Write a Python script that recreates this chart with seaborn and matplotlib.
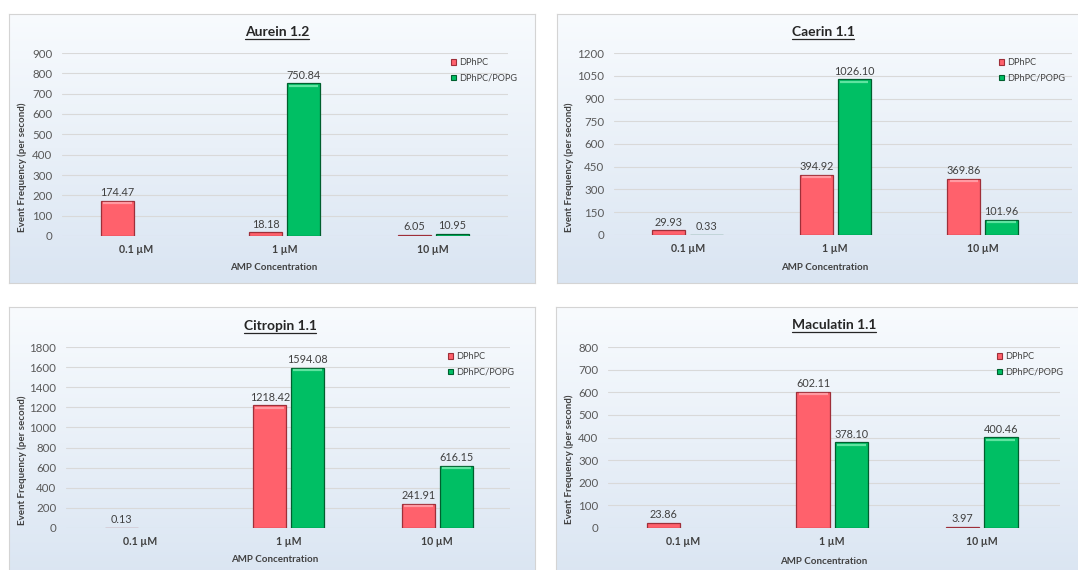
import numpy as np
import pandas as pd
import seaborn as sns
import matplotlib.pyplot as plt
from matplotlib.patches import Patch
from matplotlib.lines import Line2D
from matplotlib.colors import LinearSegmentedColormap

# ---- data -------------------------------------------------------------
concentrations = ["0.1 µM", "1 µM", "10 µM"]
lipids = ["DPhPC", "DPhPC/POPG"]
peptides = ["Aurein 1.2", "Caerin 1.1", "Citropin 1.1", "Maculatin 1.1"]

aurein_dphpc = [174.47, 18.18, 6.05]
aurein_popg = [None, 750.84, 10.95]
caerin_dphpc = [29.93, 394.92, 369.86]
caerin_popg = [0.33, 1026.10, 101.96]
citropin_dphpc = [0.13, 1218.42, 241.91]
citropin_popg = [None, 1594.08, 616.15]
maculatin_dphpc = [23.86, 602.11, 3.97]
maculatin_popg = [None, 378.10, 400.46]

y_max = [900, 1200, 1800, 800]
y_step = [100, 150, 200, 100]

series = [
    (aurein_dphpc, aurein_popg),
    (caerin_dphpc, caerin_popg),
    (citropin_dphpc, citropin_popg),
    (maculatin_dphpc, maculatin_popg),
]

# ---- styling ----------------------------------------------------------
sns.set_theme(style="white")
plt.rcParams["font.family"] = ["Lato", "DejaVu Sans"]

red, green = "#ff616c", "#00bf64"
red_dark, green_dark = "#9e2f39", "#005f2e"
red_light, green_light = "#ff9aa2", "#5fe3a0"
palette = {"DPhPC": red, "DPhPC/POPG": green}
darks = [red_dark, green_dark]
lights = [red_light, green_light]

W, H = 1078, 570
fig = plt.figure(figsize=(W / 100, H / 100), dpi=100)
fig.patch.set_facecolor("white")


def frac(l, t, r, b):
    return [l / W, 1 - b / H, (r - l) / W, (b - t) / H]


# panel boxes, plot areas and text anchors, in pixels
layout = [
    dict(panel=(9, 14, 535, 283), plot=(62, 53, 508, 236), step=148.5,
         title=(277, 32), xlabel=(274, 267), ylabel=(22, 167), legend=(451, 58)),
    dict(panel=(557, 14, 1090, 283), plot=(614, 53, 1072, 235), step=147.5,
         title=(823, 32), xlabel=(825, 267), ylabel=(569, 167), legend=(999, 58)),
    dict(panel=(9, 307, 535, 580), plot=(66, 347, 510, 528), step=148.5,
         title=(280, 326), xlabel=(275, 560), ylabel=(22, 460), legend=(448, 352)),
    dict(panel=(556, 307, 1090, 580), plot=(608, 347, 1060, 528), step=149.5,
         title=(834, 325), xlabel=(824, 561), ylabel=(569, 459), legend=(997, 352)),
]

gradient = np.linspace(0, 1, 256).reshape(-1, 1)
bg_cmap = LinearSegmentedColormap.from_list("panel_bg", ["#f8fbfe", "#dae5f2"])

titles = []
for name, (dphpc, popg), ymax, ystep, lay in zip(peptides, series, y_max, y_step, layout):
    # panel background with soft vertical gradient
    bg = fig.add_axes(frac(*lay["panel"]), zorder=0)
    bg.imshow(gradient, aspect="auto", cmap=bg_cmap, extent=(0, 1, 0, 1))
    bg.set_xticks([])
    bg.set_yticks([])
    for s in bg.spines.values():
        s.set_color("#d4d4d4")
        s.set_linewidth(0.8)

    rows = []
    for conc, a, b in zip(concentrations, dphpc, popg):
        if a is not None:
            rows.append((conc, "DPhPC", a))
        if b is not None:
            rows.append((conc, "DPhPC/POPG", b))
    df = pd.DataFrame(rows, columns=["conc", "lipid", "freq"])

    l, t, r, b = lay["plot"]
    ax = fig.add_axes(frac(l, t, r, b), zorder=1)
    ax.patch.set_alpha(0)
    sns.barplot(data=df, x="conc", y="freq", hue="lipid", order=concentrations,
                hue_order=lipids, palette=palette, width=0.51, gap=0.12,
                saturation=1, errorbar=None, legend=False, ax=ax, zorder=3)

    ax.set_xlim(-0.5, -0.5 + (r - l) / lay["step"])
    ax.set_ylim(0, ymax)
    ax.set_yticks(np.arange(0, ymax + 1, ystep))
    ax.yaxis.grid(True, color="#d9d9d9", linewidth=0.8, zorder=0)
    ax.set_axisbelow(True)
    for s in ax.spines.values():
        s.set_visible(False)
    ax.tick_params(axis="both", length=0)
    ax.tick_params(axis="y", labelsize=8.3, labelcolor="#595959", pad=7)
    ax.tick_params(axis="x", labelsize=7.6, labelcolor="#404040", pad=6)
    for lab in ax.get_xticklabels():
        lab.set_fontweight("bold")
    ax.set_xlabel("")
    ax.set_ylabel("")

    # bevelled look: dark rim plus a light strip under the top edge
    px = ymax / (b - t)
    for cont, dark, light in zip(ax.containers, darks, lights):
        for p in cont.patches:
            h = p.get_height()
            if np.isnan(h):
                continue
            p.set_edgecolor(dark)
            p.set_linewidth(0.9)
            if h / px > 6:
                x0, w = p.get_x(), p.get_width()
                ax.plot([x0 + w * 0.07, x0 + w * 0.93], [h - 2.2 * px] * 2,
                        color=light, linewidth=1.6, solid_capstyle="butt", zorder=4)
        ax.bar_label(cont, fmt="%.2f", padding=2, fontsize=7.8, color="#404040")

    titles.append(fig.text(lay["title"][0] / W, 1 - lay["title"][1] / H, name,
                           ha="center", va="center", fontsize=10, fontweight="bold",
                           color="#262626"))
    fig.text(lay["xlabel"][0] / W, 1 - lay["xlabel"][1] / H, "AMP Concentration",
             ha="center", va="center", fontsize=7, fontweight="bold", color="#404040")
    fig.text(lay["ylabel"][0] / W, 1 - lay["ylabel"][1] / H,
             "Event Frequency (per second)", ha="center", va="center",
             rotation=90, fontsize=7, fontweight="bold", color="#404040")

    handles = [Patch(facecolor=red, edgecolor=red_dark, linewidth=0.8),
               Patch(facecolor=green, edgecolor=green_dark, linewidth=0.8)]
    fig.legend(handles, lipids, loc="upper left",
               bbox_to_anchor=(lay["legend"][0] / W, 1 - lay["legend"][1] / H),
               frameon=False, fontsize=6.6, handlelength=0.55, handleheight=0.55,
               handletextpad=0.3, labelspacing=0.75, borderaxespad=0, borderpad=0,
               labelcolor="#404040")

# underline the chart titles
fig.canvas.draw()
renderer = fig.canvas.get_renderer()
for txt in titles:
    bb = txt.get_window_extent(renderer)
    y = bb.y0 - 1.0
    fig.add_artist(Line2D([bb.x0 / W, bb.x1 / W], [y / H, y / H],
                          transform=fig.transFigure, color="#262626", linewidth=0.9))

fig.savefig("out.png", dpi=100)
